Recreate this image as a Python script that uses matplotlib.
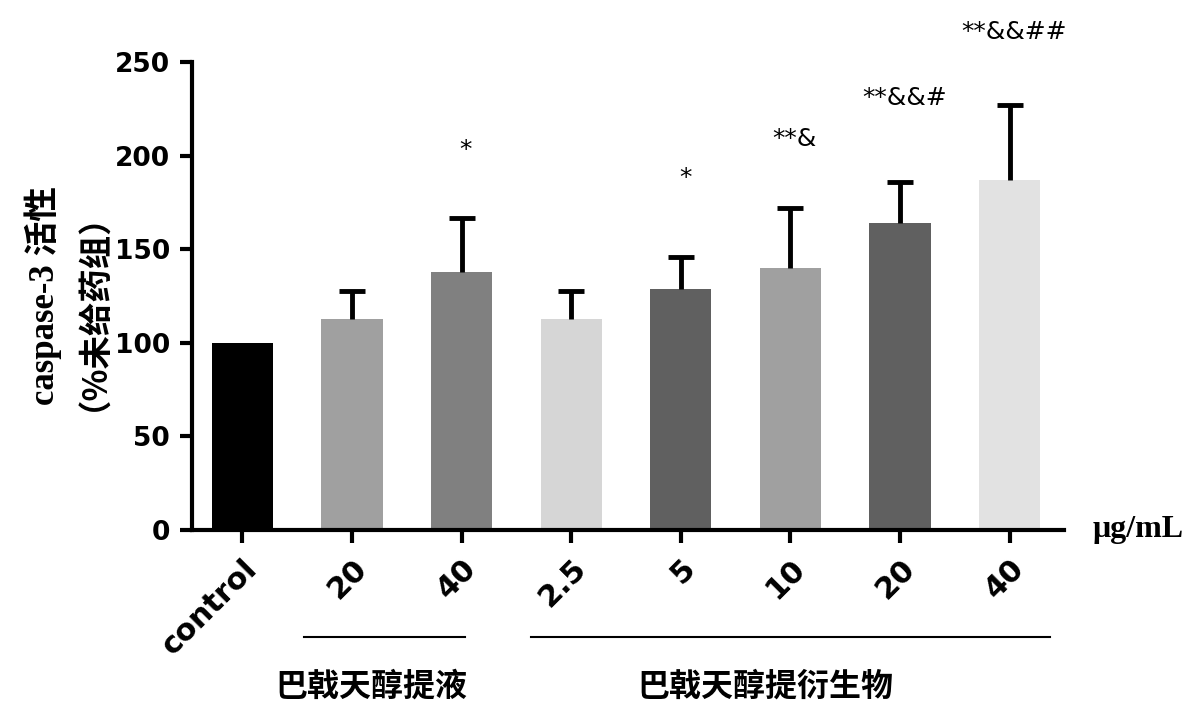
import matplotlib
matplotlib.use("Agg")
import matplotlib.pyplot as plt
import matplotlib.transforms as mtransforms
import numpy as np

plt.rcParams["font.family"] = ["DejaVu Sans", "Noto Sans CJK SC"]

# data
labels = ["control", "20", "40", "2.5", "5", "10", "20", "40"]
means = [100, 113, 138, 113, 129, 140, 164, 187]
upper = [100, 128, 167, 128, 146, 172, 186, 227]
bar_colors = ["#000000", "#a0a0a0", "#808080", "#d6d6d6",
              "#606060", "#a0a0a0", "#606060", "#e2e2e2"]
marks = ["", "", "*", "", "*", "**&", "**&&#", "**&&##"]
mark_y = [0, 0, 203, 0, 188, 209, 231, 266]
groups = ["巴戟天醇提液", "巴戟天醇提衍生物"]
group_spans = [(0.56, 2.03), (2.63, 7.37)]
group_label_x = [1.18, 4.77]

x = np.arange(len(labels))
err = np.array(upper) - np.array(means)

fig = plt.figure(figsize=(12, 7.25), dpi=100)
ax = fig.add_axes([0.16, 0.269, 0.727, 0.645])

ax.bar(x, means, width=0.56, color=bar_colors, zorder=2)
# upper-only error bars, cap drawn only at the top end
ax.errorbar(x[1:], means[1:], yerr=[np.zeros(len(x) - 1), err[1:]],
            fmt="none", ecolor="black", elinewidth=3.5, capsize=0, zorder=3)
ax.plot(x[1:], upper[1:], linestyle="none", marker="_", markersize=19,
        markeredgewidth=3.5, color="black", zorder=3)

for xi, m, my in zip(x, marks, mark_y):
    if m:
        ax.text(xi + 0.04, my, m, ha="center", va="center", fontsize=18)

ax.set_xlim(-0.46, 7.5)
ax.set_ylim(0, 250)
ax.set_yticks([0, 50, 100, 150, 200, 250])
ax.set_xticks(x)
ax.set_xticklabels(labels, rotation=45, ha="right", rotation_mode="anchor")
for lab in ax.get_yticklabels():
    lab.set_fontweight("bold")
    lab.set_fontsize(19)
for lab in ax.get_xticklabels():
    lab.set_fontweight("bold")
    lab.set_fontsize(22)

for side in ["top", "right"]:
    ax.spines[side].set_visible(False)
for side in ["left", "bottom"]:
    ax.spines[side].set_linewidth(3)
ax.tick_params(axis="both", width=3, length=9, pad=7)
ax.tick_params(axis="x", pad=8)

ax.text(1.032, 0.0, "μg/mL", transform=ax.transAxes, ha="left", va="center",
        fontsize=23, fontweight="bold",
        family=["Liberation Serif", "DejaVu Serif"])

fig.text(0.036, 0.593, "caspase-3 活性", rotation=90, ha="center", va="center",
         fontsize=25, fontweight="bold",
         family=["Liberation Serif", "Noto Sans CJK SC"])
fig.text(0.063, 0.593, "（%未给药组）", rotation=90, ha="center", va="center",
         fontsize=24, fontweight="bold", family=["Noto Sans CJK SC"])

trans = mtransforms.blended_transform_factory(ax.transData, ax.transAxes)
for name, (x0, x1), lx in zip(groups, group_spans, group_label_x):
    ax.plot([x0, x1], [-0.229, -0.229], color="black", lw=1.5,
            transform=trans, clip_on=False)
    ax.text(lx, -0.335, name, transform=trans, ha="center",
            va="center", fontsize=23, fontweight="bold",
            family=["Noto Sans CJK SC"])

fig.savefig("out.png", dpi=100)
